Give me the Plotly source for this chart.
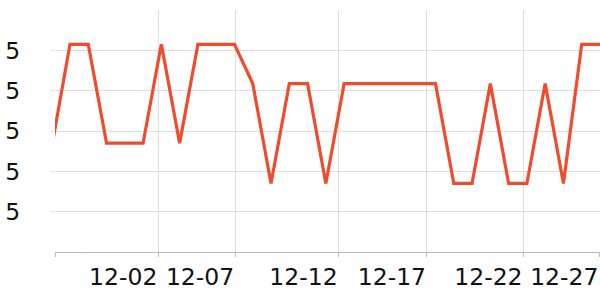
import plotly.graph_objects as go

# data: 31 evenly spaced samples (index positions)
idx = list(range(31))
values = [4.92, 5.43, 5.43, 4.94, 4.94, 4.94, 5.43, 4.94, 5.43, 5.43,
          5.43, 5.235, 4.74, 5.235, 5.235, 4.74, 5.235, 5.235, 5.235, 5.235,
          5.235, 5.235, 4.74, 4.74, 5.235, 4.74, 4.74, 5.235, 4.74, 5.43, 5.43]

x_tick_pos = [0.18, 5.83, 10.03, 15.69, 20.53, 25.81, 29.96]
x_tick_text = ["", "12-02", "12-07", "12-12", "12-17", "12-22", "12-27"]
y_tick_vals = [4.6, 4.8, 5.0, 5.2, 5.4]

fig = go.Figure(go.Scatter(
    x=idx, y=values, mode="lines",
    line=dict(color="#EF4B2C", width=3.2),
    hoverinfo="skip",
))

fig.update_layout(
    width=600, height=300,
    margin=dict(l=55, r=0, t=10, b=48),
    paper_bgcolor="white", plot_bgcolor="white",
    showlegend=False,
    font=dict(family="DejaVu Sans", size=23.5, color="#111"),
)
fig.update_xaxes(
    range=[0.18, 30], tickmode="array", tickvals=x_tick_pos, ticktext=x_tick_text,
    showgrid=True, gridcolor="#dddddd", gridwidth=1,
    showline=True, linecolor="#bbbbbb", linewidth=1,
    ticks="outside", ticklen=4, tickcolor="#bbbbbb",
    ticklabelshift=-35, zeroline=False,
)
fig.update_yaxes(
    range=[4.4, 5.6], tickmode="array", tickvals=y_tick_vals, tickformat=".0f",
    showgrid=True, gridcolor="#dddddd", gridwidth=1,
    showline=False, ticks="outside", ticklen=3, tickcolor="#dddddd",
    ticklabelstandoff=26, zeroline=False,
)

fig.write_html("out.html")
